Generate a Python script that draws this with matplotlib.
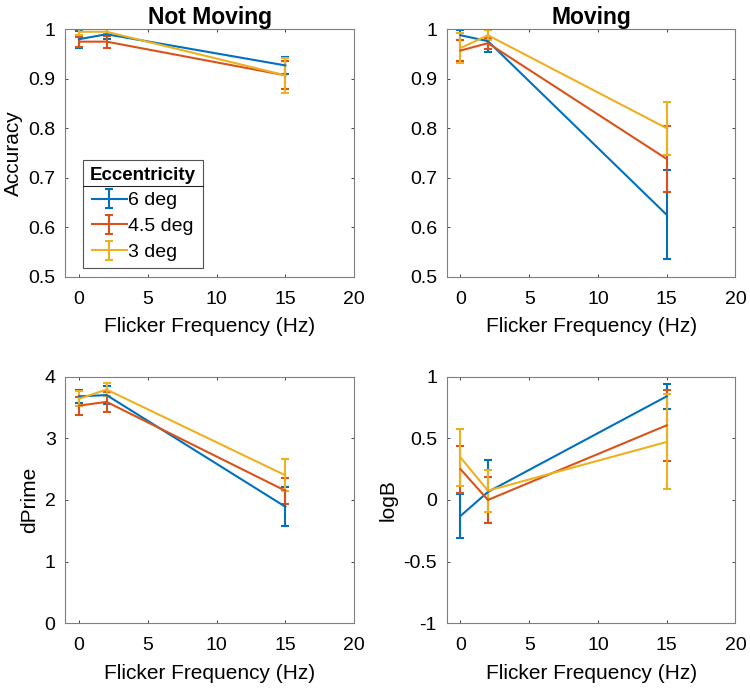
import matplotlib.pyplot as plt
from matplotlib.lines import Line2D

plt.rcParams['font.family'] = ['Liberation Sans', 'DejaVu Sans']

# flicker frequencies (Hz)
freq = [0, 2, 15]
ecc_labels = ['6 deg', '4.5 deg', '3 deg']
colors = ['#0072BD', '#D95319', '#EDB120']

# Accuracy, not moving
acc_still = [[0.980, 0.990, 0.927], [0.975, 0.975, 0.907], [0.995, 0.995, 0.907]]
acc_still_err = [[0.017, 0.010, 0.018], [0.010, 0.012, 0.028], [0.006, 0.005, 0.035]]
# Accuracy, moving
acc_move = [[0.988, 0.976, 0.625], [0.957, 0.972, 0.738], [0.962, 0.988, 0.800]]
acc_move_err = [[0.010, 0.022, 0.090], [0.022, 0.011, 0.066], [0.030, 0.010, 0.054]]
# dPrime, not moving
dprime = [[3.68, 3.70, 1.89], [3.53, 3.59, 2.15], [3.64, 3.79, 2.40]]
dprime_err = [[0.11, 0.14, 0.32], [0.145, 0.16, 0.21], [0.12, 0.10, 0.26]]
# logB, moving
logb = [[-0.13, 0.065, 0.84], [0.25, 0.0, 0.605], [0.345, 0.075, 0.47]]
logb_err = [[0.18, 0.255, 0.10], [0.19, 0.19, 0.29], [0.23, 0.17, 0.385]]

fig = plt.figure(figsize=(7.5, 6.91), dpi=100)
axes_pos = [[0.0871, 0.5996, 0.385, 0.358], [0.5956, 0.5996, 0.385, 0.358],
            [0.0871, 0.0980, 0.385, 0.357], [0.5956, 0.0980, 0.385, 0.357]]
panels = [
    (acc_still, acc_still_err, 'Accuracy', 'Not Moving', (0.5, 1), [0.5, 0.6, 0.7, 0.8, 0.9, 1], ['0.5', '0.6', '0.7', '0.8', '0.9', '1']),
    (acc_move, acc_move_err, '', 'Moving', (0.5, 1), [0.5, 0.6, 0.7, 0.8, 0.9, 1], ['0.5', '0.6', '0.7', '0.8', '0.9', '1']),
    (dprime, dprime_err, 'dPrime', '', (0, 4), [0, 1, 2, 3, 4], ['0', '1', '2', '3', '4']),
    (logb, logb_err, 'logB', '', (-1, 1), [-1, -0.5, 0, 0.5, 1], ['-1', '-0.5', '0', '0.5', '1']),
]

axc = '#262626'
all_axes = []
for pos, (vals, errs, ylab, title, ylim, yt, ytl) in zip(axes_pos, panels):
    ax = fig.add_axes(pos)
    for v, e, c, lab in zip(vals, errs, colors, ecc_labels):
        ax.errorbar(freq, v, yerr=e, color=c, lw=1.5, elinewidth=1.5,
                    capsize=3, capthick=1.5, label=lab)
    ax.set_xlim(-1, 20)
    ax.set_ylim(*ylim)
    ax.set_xticks([0, 5, 10, 15, 20])
    ax.set_yticks(yt)
    ax.set_yticklabels(ytl)
    ax.tick_params(direction='in', length=2.5, width=0.6, top=True, right=True,
                   labelsize=14, colors=axc, labelcolor='black')
    ax.tick_params(axis='x', pad=10)
    ax.tick_params(axis='y', pad=7)
    for s in ax.spines.values():
        s.set_color('#7f7f7f')
        s.set_linewidth(0.8)
    ax.set_xlabel('Flicker Frequency (Hz)', fontsize=15, labelpad=7)
    if ylab:
        ax.set_ylabel(ylab, fontsize=15, labelpad=4)
    if title:
        ax.set_title(title, fontsize=16.5, fontweight='bold', pad=4)
    all_axes.append(ax)

ax0 = all_axes[0]
handles, labels = ax0.get_legend_handles_labels()
leg = ax0.legend(handles, labels, title='Eccentricity', loc='upper left',
                 bbox_to_anchor=(0.061, 0.472), fontsize=14, frameon=True,
                 fancybox=False, edgecolor='#262626', borderpad=0.35,
                 handlelength=1.8, handletextpad=0.1, labelspacing=0.42,
                 borderaxespad=0)
leg.get_title().set_fontsize(13.5)
leg.get_title().set_fontweight('bold')
leg.get_frame().set_linewidth(0.8)

# separator line under the legend title
fig.canvas.draw()
r = fig.canvas.get_renderer()
lb = leg.get_window_extent(r)
tb = leg.get_title().get_window_extent(r)
yline = tb.y0 - 2
inv = fig.transFigure.inverted()
(x0, yl), (x1, _) = inv.transform([(lb.x0, yline), (lb.x1, yline)])
fig.add_artist(Line2D([x0, x1], [yl, yl], color='#262626', lw=0.8))

fig.savefig('out.png', dpi=100)
